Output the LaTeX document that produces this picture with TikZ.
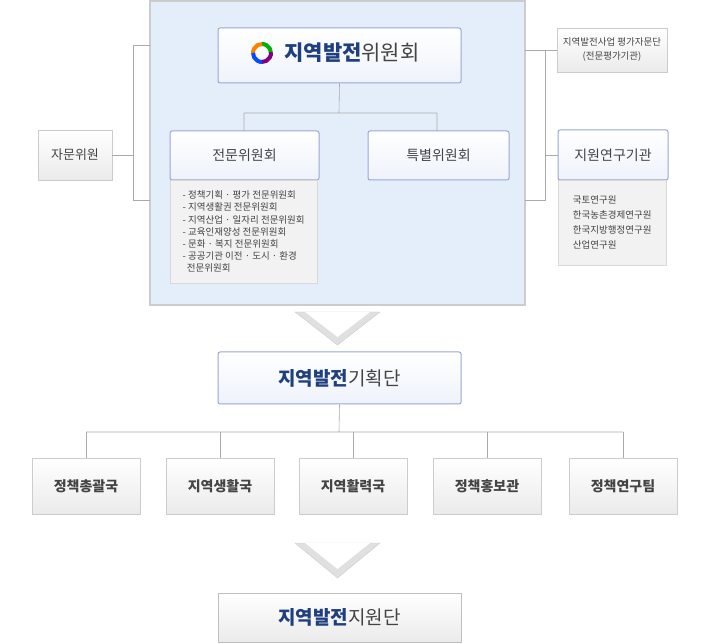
\documentclass[tikz,border=0pt]{standalone}
\usepackage{fontspec}
\setmainfont{Noto Sans CJK KR}
\definecolor{panel}{HTML}{E4EEFA}
\definecolor{bdr}{HTML}{9AA6D6}
\definecolor{ttl}{HTML}{1F3F7F}
\definecolor{txt}{HTML}{444444}
\definecolor{ln}{HTML}{AAAAAA}
\tikzset{
 bluebox/.style={draw=bdr,line width=1pt,rounded corners=2pt,top color=white,bottom color=panel!80!bdr!40,text=txt},
 graybox/.style={draw=ln!60,top color=white,bottom color=black!8,text=txt},
 listbox/.style={draw=black!15,fill=black!5,text=txt,align=left,anchor=north west,inner sep=3pt},
 conn/.style={draw=ln,line width=0.6pt},
 chev/.style={fill=black!12,draw=black!20}
}
\begin{document}
\begin{tikzpicture}[x=1pt,y=-1pt]
\useasboundingbox (0,0) rectangle (710,644);
\fill[panel,draw=black!20,line width=2pt] (150,1) rectangle (525,305);
% top
\node[bluebox,minimum width=243pt,minimum height=55pt] (wc) at (339.5,55.5) {};
\node[text=ttl,font=\fontsize{21}{24}\selectfont] (wct) at (352,53) {\textbf{지역발전}\textcolor{txt}{위원회}};
\node[circle,minimum size=22pt] (logo) at (262,53) {};
\foreach \a/\c in {0/green!70!black,90/orange,180/blue!70!cyan,270/violet}
  \draw[\c,line width=4pt] (logo.center) ++(\a:9pt) arc[start angle=\a,end angle=\a+95,radius=9pt];
\node[bluebox,minimum width=149pt,minimum height=49pt,font=\fontsize{14}{16}\selectfont] (jm) at (244.5,155.5) {전문위원회};
\node[bluebox,minimum width=141pt,minimum height=49pt,font=\fontsize{14}{16}\selectfont] (tb) at (438.5,155.5) {특별위원회};
\node[listbox,minimum width=147pt,minimum height=103pt,font=\fontsize{9.5}{12.2}\selectfont,inner xsep=6pt,inner ysep=6pt] (jl) at (170,180) {- 정책기획 · 평가 전문위원회\\- 지역생활권 전문위원회\\- 지역산업 · 일자리 전문위원회\\- 교육인재양성 전문위원회\\- 문화 · 복지 전문위원회\\- 공공기관 이전 · 도시 · 환경\\\ \ 전문위원회};
\coordinate (b1) at (339,113);
\draw[conn] (wc.south) -- (b1) (244,113) -- (437,113) (244,113) -- (244,131) (437,113) -- (437,131);
% left
\node[graybox,minimum width=74pt,minimum height=50pt,font=\fontsize{13}{15}\selectfont] (jw) at (75,155) {자문위원};
\draw[conn] (150,45) -- (133,45) -- (133,200) -- (150,200) (jw.east) -- (133,155);
% right
\node[graybox,minimum width=110pt,minimum height=44pt,align=center,font=\fontsize{9.5}{14}\selectfont] (pg) at (612,50) {지역발전사업 평가자문단\\(전문평가기관)};
\node[bluebox,minimum width=110pt,minimum height=50pt,font=\fontsize{14}{16}\selectfont] (jy) at (613,155) {지원연구기관};
\node[listbox,minimum width=108pt,minimum height=85pt,font=\fontsize{9.5}{15}\selectfont,inner xsep=12pt,inner ysep=6pt] (jyl) at (558,180) {국토연구원\\한국농촌경제연구원\\한국지방행정연구원\\산업연구원};
\draw[conn] (525,50) -- (pg.west) (525,200) -- (545,200) -- (545,50) (545,155) -- (jy.west);
% chevrons
\fill[chev] (295,312) -- (380,312) -- (337.5,345) -- cycle;
\fill[white] (305,312) -- (370,312) -- (337.5,337) -- cycle;
\fill[chev] (295,543) -- (380,543) -- (337.5,578) -- cycle;
\fill[white] (305,543) -- (370,543) -- (337.5,569) -- cycle;
% planning
\node[bluebox,minimum width=243pt,minimum height=52pt,text=ttl,font=\fontsize{19}{22}\selectfont] (gh) at (339.5,378) {\textbf{지역발전}\textcolor{txt}{기획단}};
\draw[conn] (gh.south) -- (339,432) (86,432) -- (623,432);
\foreach \n/\x/\t in {a/86/정책총괄국,b/220/지역생활국,c/353/지역활력국,d/487/정책홍보관,e/623/정책연구팀}{
 \node[graybox,minimum width=108pt,minimum height=56pt,font=\bfseries\fontsize{14}{16}\selectfont] (\n) at (\x,486) {\t};
 \draw[conn] (\x,432) -- (\n.north);
}
\node[graybox,draw=black!25,minimum width=243pt,minimum height=49pt,text=ttl,font=\fontsize{19}{22}\selectfont] (jw2) at (339.5,617.5) {\textbf{지역발전}\textcolor{txt}{지원단}};
\end{tikzpicture}
\end{document}
